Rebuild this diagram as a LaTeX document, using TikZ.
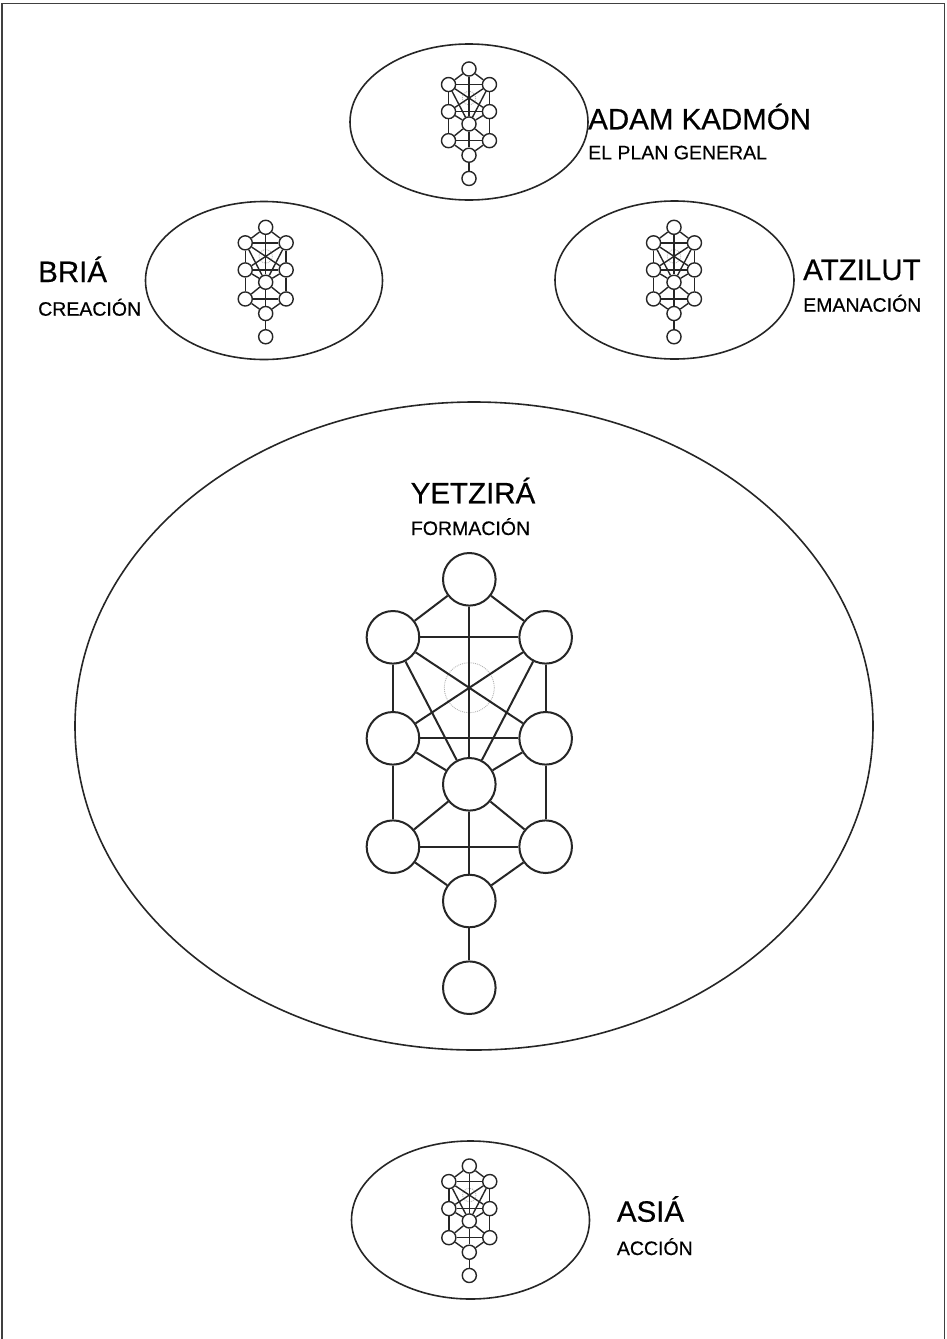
\documentclass[tikz,border=0pt]{standalone}
\usepackage{fontspec}
\setmainfont{Liberation Sans}
\newfontfamily\labfont{Liberation Sans}[FakeBold=0.5]
\tikzset{
  sef/.style={circle, draw=black!85, fill=white, inner sep=0pt},
  treeline/.style={draw=black!85},
  worldline/.style={draw=black!85, line width=1.6pt},
  biglabel/.style={font=\labfont\fontsize{29.5}{31}\selectfont, inner sep=0pt, anchor=base west},
  smalllabel/.style={font=\labfont\fontsize{19.5}{21}\selectfont, inner sep=0pt, anchor=base west},
}
\newcommand\sefirottree[5]{%
  \begin{scope}[shift={(#2,#3)}]
    \pgfmathsetmacro\tsc{#4}
    \pgfmathsetmacro\tlw{#5}
    \pgfmathsetmacro\tdia{52.6*#4}
    \draw[gray!60, densely dotted, line width=0.9pt] (0,{108.4*\tsc}) circle [radius={25*\tsc}];
    \node[sef, minimum size=\tdia pt, line width=\tlw pt] (#1-k)  at (0,0) {};
    \node[sef, minimum size=\tdia pt, line width=\tlw pt] (#1-ul) at ({-76.35*\tsc},{58*\tsc}) {};
    \node[sef, minimum size=\tdia pt, line width=\tlw pt] (#1-ur) at ({76.35*\tsc},{58*\tsc}) {};
    \node[sef, minimum size=\tdia pt, line width=\tlw pt] (#1-ml) at ({-76.35*\tsc},{159*\tsc}) {};
    \node[sef, minimum size=\tdia pt, line width=\tlw pt] (#1-mr) at ({76.35*\tsc},{159*\tsc}) {};
    \node[sef, minimum size=\tdia pt, line width=\tlw pt] (#1-t)  at (0,{205*\tsc}) {};
    \node[sef, minimum size=\tdia pt, line width=\tlw pt] (#1-ll) at ({-76.35*\tsc},{267.4*\tsc}) {};
    \node[sef, minimum size=\tdia pt, line width=\tlw pt] (#1-lr) at ({76.35*\tsc},{267.4*\tsc}) {};
    \node[sef, minimum size=\tdia pt, line width=\tlw pt] (#1-y)  at (0,{321.7*\tsc}) {};
    \node[sef, minimum size=\tdia pt, line width=\tlw pt] (#1-m)  at (0,{408.4*\tsc}) {};
    \begin{scope}[treeline, line width=\tlw pt]
      \draw (#1-k) -- (#1-ul);
      \draw (#1-k) -- (#1-ur);
      \draw (#1-k) -- (#1-t);
      \draw (#1-ul) -- (#1-ur);
      \draw (#1-ul) -- (#1-ml);
      \draw (#1-ur) -- (#1-mr);
      \draw (#1-ul) -- (#1-t);
      \draw (#1-ur) -- (#1-t);
      \draw (#1-ul) -- (#1-mr);
      \draw (#1-ur) -- (#1-ml);
      \draw (#1-ml) -- (#1-mr);
      \draw (#1-ml) -- (#1-t);
      \draw (#1-mr) -- (#1-t);
      \draw (#1-ml) -- (#1-ll);
      \draw (#1-mr) -- (#1-lr);
      \draw (#1-t) -- (#1-ll);
      \draw (#1-t) -- (#1-lr);
      \draw (#1-t) -- (#1-y);
      \draw (#1-ll) -- (#1-lr);
      \draw (#1-ll) -- (#1-y);
      \draw (#1-lr) -- (#1-y);
      \draw (#1-y) -- (#1-m);
    \end{scope}
  \end{scope}
}
\begin{document}
\begin{tikzpicture}[x=1pt, y=-1pt]
  \useasboundingbox (0,0) rectangle (946,1339);
  % frame
  \draw[black!75, line width=1.5pt] (1.8,1339) -- (1.8,3.3) -- (944.5,3.3) -- (944.5,1339);

  % worlds (ellipses)
  \draw[worldline] (469,122) ellipse [x radius=119, y radius=78];
  \draw[worldline] (264,280.5) ellipse [x radius=118.5, y radius=79];
  \draw[worldline] (674.5,280) ellipse [x radius=119.5, y radius=79];
  \draw[worldline] (474,726) ellipse [x radius=399, y radius=324];
  \draw[worldline] (470.5,1220) ellipse [x radius=119, y radius=79];

  % trees
  \sefirottree{A}{469}{69}{0.268}{1.4}
  \sefirottree{B}{265.7}{227.3}{0.268}{1.4}
  \sefirottree{Z}{674}{227.3}{0.268}{1.4}
  \sefirottree{Y}{469.3}{579.3}{1}{2.0}
  \sefirottree{S}{469.3}{1166}{0.268}{1.4}

  % labels
  \node[biglabel] (adam) at (588,129.3) {ADAM KADMÓN};
  \node[smalllabel] (adamsub) at (588,159.3) {EL PLAN GENERAL};
  \node[biglabel] (bria) at (38,282) {BRIÁ};
  \node[smalllabel] (briasub) at (38,315.7) {CREACIÓN};
  \node[biglabel] (atz) at (803,280) {ATZILUT};
  \node[smalllabel] (atzsub) at (803,311.7) {EMANACIÓN};
  \node[biglabel, anchor=base] (yetz) at (473,503.3) {YETZIRÁ};
  \node[smalllabel, anchor=base] (yetzsub) at (470.5,535) {FORMACIÓN};
  \node[biglabel] (asia) at (616.7,1221.7) {ASIÁ};
  \node[smalllabel] (asiasub) at (616.7,1255) {ACCIÓN};
\end{tikzpicture}
\end{document}
